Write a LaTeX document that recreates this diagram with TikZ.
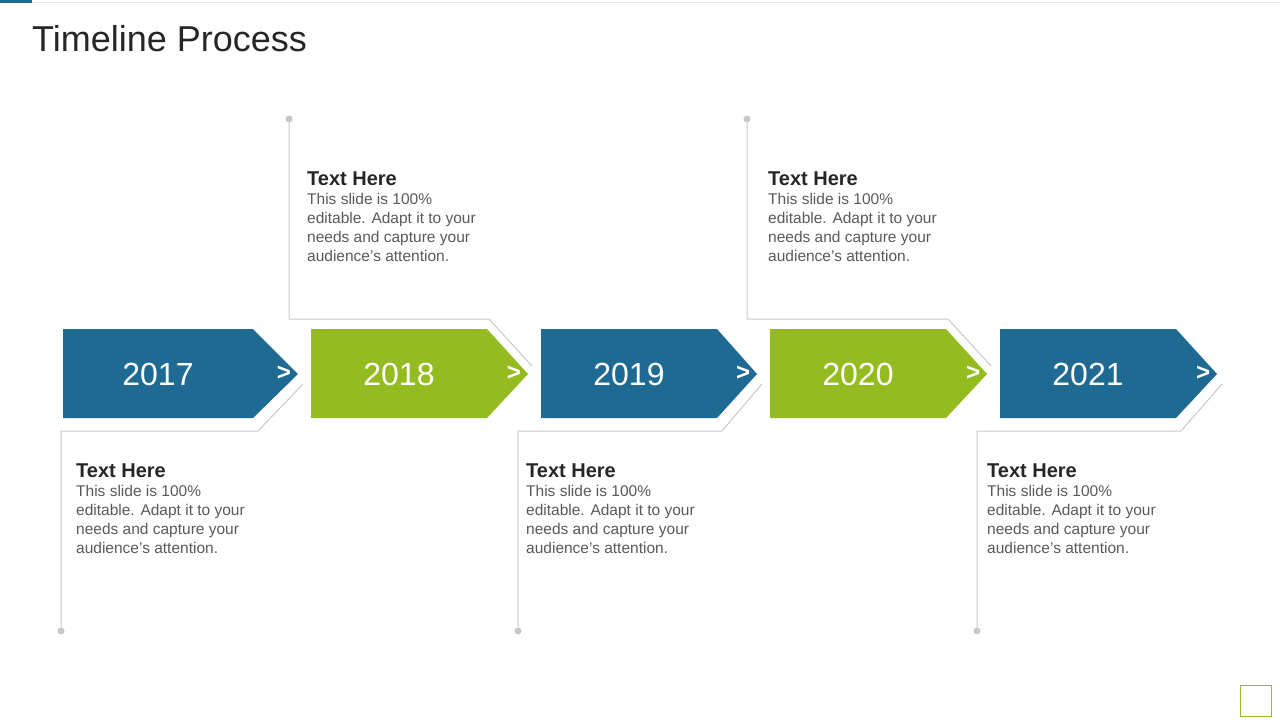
\documentclass[tikz,border=0pt]{standalone}
\usepackage{fontspec}
\setmainfont{Liberation Sans}
\usetikzlibrary{positioning}
\definecolor{tlblue}{HTML}{1F6A93}
\definecolor{tlgreen}{HTML}{94BC21}
\definecolor{tlgrey}{HTML}{C8C8C8}
\definecolor{tltext}{HTML}{595959}
\tikzset{
	yearbox/.style = {text=white, font=\fontsize{32}{32}\selectfont},
	chev/.style    = {text=white, font=\bfseries\fontsize{24}{24}\selectfont},
	leader/.style  = {draw=tlgrey, line width=1pt},
	dot/.style     = {circle, fill=tlgrey, inner sep=0pt, minimum size=7pt},
	head/.style    = {anchor=north west, inner sep=0pt, text=black!85, font=\bfseries\fontsize{20}{20}\selectfont},
	body/.style    = {anchor=north west, inner sep=0pt, align=left, text=tltext,
		font=\fontsize{15.5}{19}\selectfont},
}
\begin{document}
\begin{tikzpicture}[x=1pt, y=-1pt]
	\useasboundingbox (0,0) rectangle (1280,720);

	%Title and frame
	\fill[tlblue] (0,0) rectangle (32,3);
	\draw[black!10] (32,2) -- (1280,2);
	\node(title)[anchor=west, inner sep=0pt, text=black!85, font=\fontsize{36}{36}\selectfont] at (32,39) {Timeline Process};
	\draw[tlgreen, line width=1pt] (1240,685) rectangle (1271,716);

	%Arrows: left / right of box / tip / year / colour
	\foreach \l/\r/\t/\yr/\col in {63/253/298/2017/tlblue, 311/487/528/2018/tlgreen,
		541/717/757/2019/tlblue, 770/946/987/2020/tlgreen, 1000/1176/1217/2021/tlblue}{
		\fill[\col] (\l,329) -- (\r,329) -- (\t,374) -- (\r,418) -- (\l,418) -- cycle;
		\node(y\yr)[yearbox] at ({(\l+\r)/2},374) {\yr};
		\node(c\yr)[chev] at (\t-14,373) {>};
	}

	%Leaders above
	\foreach \xa/\r/\t/\name in {289/487/528/a, 747/946/987/b}{
		\node(dt\name)[dot] at (\xa,119) {};
		\coordinate(et\name) at (\t+4,366);
		\draw[leader] (dt\name) -- (\xa,319) -- (\r+2,319) -- (et\name);
	}
	%Leaders below
	\foreach \xa/\r/\t/\name in {61/253/298/a, 518/717/757/b, 977/1176/1217/c}{
		\node(db\name)[dot] at (\xa,631) {};
		\coordinate(eb\name) at (\t+5,384);
		\draw[leader] (db\name) -- (\xa,431) -- (\r+5,431) -- (eb\name);
	}

	%Texts
	\foreach \x/\y/\name in {307/172/t1, 768/172/t2, 76/464/b1, 526/464/b2, 987/464/b3}{
		\node(h\name)[head] at (\x,\y) {Text Here};
		\node(p\name)[body, below=7pt of h\name.south west, anchor=north west]
			{This slide is 100\%\\editable. Adapt it to your\\needs and capture your\\audience's attention.};
	}
\end{tikzpicture}
\end{document}
